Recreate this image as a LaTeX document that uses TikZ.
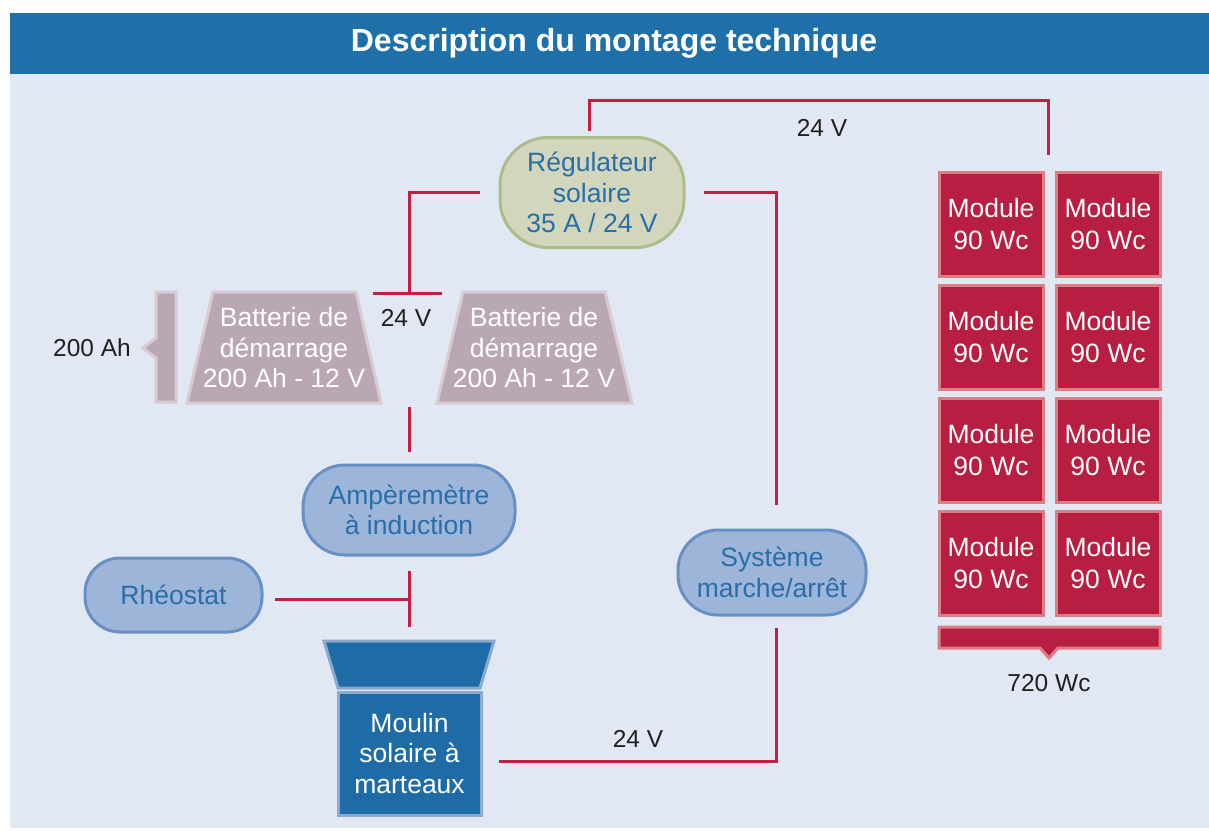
\documentclass[tikz,border=0pt]{standalone}
\usepackage{fontspec}
\setmainfont{Liberation Sans}
\usetikzlibrary{calc}
\definecolor{bgl}{HTML}{E1E8F3}
\definecolor{titleblue}{HTML}{1F6FA8}
\definecolor{wirered}{HTML}{C41E45}
\definecolor{batfill}{HTML}{B9A8B3}
\definecolor{batdraw}{HTML}{D7CBD1}
\definecolor{regfill}{HTML}{D1D6BD}
\definecolor{regdraw}{HTML}{AEBB8A}
\definecolor{litefill}{HTML}{9CB5D8}
\definecolor{litedraw}{HTML}{6790C5}
\definecolor{nodetext}{HTML}{2A6EA8}
\definecolor{modfill}{HTML}{B71E42}
\definecolor{moddraw}{HTML}{DC7F85}
\definecolor{moulinfill}{HTML}{1E6BA5}
\definecolor{moulindraw}{HTML}{8AA9D0}
\definecolor{labeltext}{HTML}{231F20}
\begin{document}
\begin{tikzpicture}[x=1pt,y=-1pt,
  txt/.style={font=\fontsize{26.5}{30.5}\selectfont, align=center, inner sep=0pt},
  wire/.style={draw=wirered, line width=3pt},
  roundbox/.style={txt, line width=3pt, rounded corners=38pt, text=nodetext},
  litebox/.style={roundbox, fill=litefill, draw=litedraw},
  modbox/.style={txt, fill=modfill, draw=moddraw, line width=3pt, text=white, minimum width=104pt, minimum height=104pt, font=\fontsize{26.5}{32}\selectfont},
  batshape/.style={fill=batfill, draw=batdraw, line width=3pt},
  lbl/.style={font=\fontsize{24.5}{28}\selectfont, text=labeltext, inner sep=0pt}
]
\useasboundingbox (0,0) rectangle (1209,830);
\fill[white] (0,0) rectangle (1209,830);
\fill[bgl] (10,74) rectangle (1209,828);
\fill[titleblue] (10,13) rectangle (1209,74);
\node[font=\fontsize{32}{36}\bfseries\selectfont, text=white, inner sep=0pt] (title) at (614,43) {Description du montage technique};

% regulator
\node[roundbox, fill=regfill, draw=regdraw, minimum width=184pt, minimum height=110pt, rounded corners=48pt] (reg) at (592,192.5) {Régulateur\\solaire\\35 A / 24 V};

% batteries
\draw[batshape] (213,292) -- (356,292) -- (381,403) -- (187,403) -- cycle;
\node[txt, text=white] (bat1) at (284,348) {Batterie de\\démarrage\\200 Ah - 12 V};
\draw[batshape] (463,292) -- (605,292) -- (632,403) -- (437,403) -- cycle;
\node[txt, text=white] (bat2) at (534,348) {Batterie de\\démarrage\\200 Ah - 12 V};
% bracket
\draw[batshape] (176,292) -- (156,292) -- (156,338) -- (143,348) -- (156,358) -- (156,402) -- (176,402) -- cycle;
\node[lbl] (ah) at (92,348) {200 Ah};

% blue-lite nodes
\node[litebox, minimum width=212pt, minimum height=90pt, rounded corners=42pt] (amp) at (409,510) {Ampèremètre\\à induction};
\node[litebox, minimum width=177pt, minimum height=74pt, rounded corners=35pt] (rheo) at (173.5,595) {Rhéostat};
\node[litebox, minimum width=188pt, minimum height=85pt, rounded corners=40pt] (sys) at (772,572.5) {Système\\marche/arrêt};

% moulin
\draw[fill=moulinfill, draw=moulindraw, line width=3pt] (324,641) -- (494,641) -- (480,688) -- (338,688) -- cycle;
\node[txt, fill=moulinfill, draw=moulindraw, line width=3pt, text=white, minimum width=143pt, minimum height=123pt] (moulin) at (409.5,753.5) {Moulin\\solaire à\\marteaux};

% modules
\foreach \r/\y in {1/224,2/337.5,3/450.5,4/563.5}{
  \node[modbox] (ma\r) at (991,\y) {Module\\90 Wc};
  \node[modbox] (mb\r) at (1108,\y) {Module\\90 Wc};
}
\draw[fill=modfill, draw=moddraw, line width=3pt] (939,627) -- (1160,627) -- (1160,648) -- (1058,648) -- (1049,658) -- (1040,648) -- (939,648) -- cycle;
\node[lbl] (wc) at (1049,683) {720 Wc};

% wire end coordinates
\coordinate (regtop) at ($(reg.north)+(-3,-5)$);
\coordinate (modtop) at (1048,155);
\coordinate (topcorner) at (1048,100);
\coordinate (regleft) at ($(reg.west)+(-19,0)$);
\coordinate (batjoint) at (409,293);
\coordinate (barl) at (373,293);
\coordinate (barr) at (442,293);
\coordinate (regright) at ($(reg.east)+(18,0)$);
\coordinate (systop) at (776,505);
\coordinate (batbot) at (409,407);
\coordinate (amptop) at (409,452);
\coordinate (ampbot) at (409,571);
\coordinate (moultop) at (409,627);
\coordinate (rheor) at (275,599);
\coordinate (rheoj) at (409,599);
\coordinate (sysbot) at (776,628);
\coordinate (moulr) at (499,761);

\draw[wire] (regtop) |- (topcorner) -- (modtop);
\draw[wire] (regleft) -| (batjoint);
\draw[wire] (barl) -- (barr);
\draw[wire] (regright) -| (systop);
\draw[wire] (batbot) -- (amptop);
\draw[wire] (ampbot) -- (moultop);
\draw[wire] (rheor) -- (rheoj);
\draw[wire] (sysbot) |- (moulr);

\node[lbl] (v1) at (406,318) {24 V};
\node[lbl] (v2) at (822,128) {24 V};
\node[lbl] (v3) at (638,739) {24 V};
\end{tikzpicture}
\end{document}
